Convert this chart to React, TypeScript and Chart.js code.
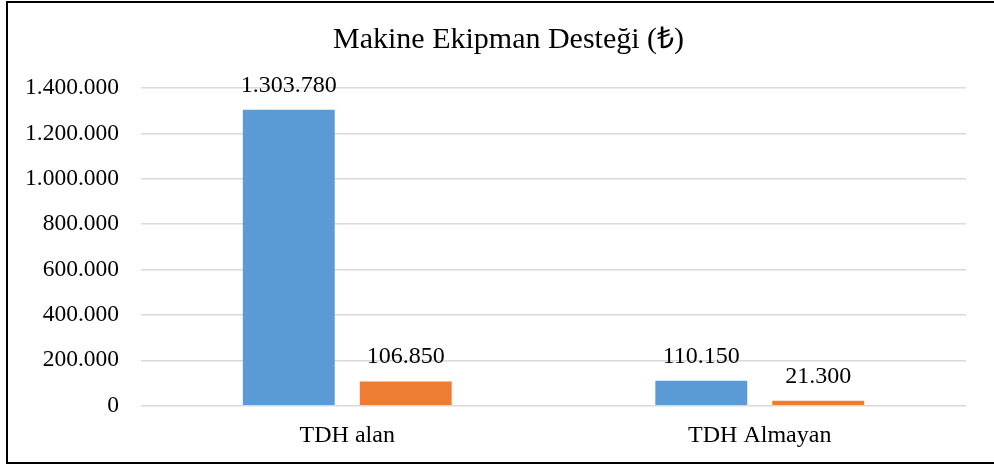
import React, { useEffect, useRef } from "react";
import { Chart, registerables } from "chart.js";

Chart.register(...registerables);

const categories = ["TDH alan", "TDH Almayan"];
const seriesA = [1303780, 110150];
const seriesB = [106850, 21300];
const seriesNames = ["Seri 1", "Seri 2"];
const titleText = "Makine Ekipman Desteği (₺)";
const yMax = 1400000;
const yStep = 200000;

const fmt = (v: number) => String(Math.round(v)).replace(/\B(?=(\d{3})+(?!\d))/g, ".");

const FONT = "'Liberation Serif', 'Times New Roman', serif";

const valueLabels = {
  id: "valueLabels",
  afterDatasetsDraw(chart: any) {
    const ctx = chart.ctx;
    ctx.save();
    ctx.font = `24px ${FONT}`;
    ctx.fillStyle = "#000";
    ctx.textAlign = "center";
    ctx.textBaseline = "middle";
    chart.data.datasets.forEach((ds: any, di: number) => {
      const meta = chart.getDatasetMeta(di);
      meta.data.forEach((bar: any, i: number) => {
        ctx.fillText(fmt(ds.data[i]), bar.x, bar.y - 24.5);
      });
    });
    ctx.restore();
  },
};

const chartTitle = {
  id: "chartTitle",
  afterDraw(chart: any) {
    const ctx = chart.ctx;
    ctx.save();
    ctx.font = `30px ${FONT}`;
    ctx.fillStyle = "#000";
    ctx.textAlign = "left";
    ctx.textBaseline = "alphabetic";
    ctx.fillText(titleText, 325, 44.5);
    ctx.restore();
  },
};

export default function App() {
  const ref = useRef<HTMLCanvasElement>(null);
  useEffect(() => {
    if (!ref.current) return;
    const chart = new Chart(ref.current, {
      type: "bar",
      data: {
        labels: categories,
        datasets: [
          { label: seriesNames[0], data: seriesA, backgroundColor: "#5B9BD5", categoryPercentage: 0.567, barPercentage: 0.786 },
          { label: seriesNames[1], data: seriesB, backgroundColor: "#ED7D31", categoryPercentage: 0.567, barPercentage: 0.786 },
        ],
      },
      options: {
        animation: false,
        responsive: true,
        maintainAspectRatio: false,
        layout: { padding: { left: 0, right: 38, top: 85, bottom: 0 } },
        plugins: {
          legend: { display: false },
          tooltip: { enabled: false },
          title: { display: false },
        },
        scales: {
          x: {
            grid: { display: false, drawTicks: false },
            border: { display: false },
            ticks: { color: "#000", font: { family: FONT, size: 24 }, padding: 15.5 },
            afterFit: (s: any) => { s.height = 56.3; },
          },
          y: {
            min: 0,
            max: yMax,
            ticks: { stepSize: yStep, color: "#000", font: { family: FONT, size: 23.5 }, padding: 22, callback: (v: any) => fmt(Number(v)) },
            grid: { color: "#d9d9d9", lineWidth: 1.5, drawTicks: false },
            border: { display: false },
            afterFit: (s: any) => { s.width = 133; },
          },
        },
      },
      plugins: [valueLabels, chartTitle],
    });
    return () => chart.destroy();
  }, []);
  return (
    <div
      style={{
        position: "absolute",
        left: 6,
        top: 1,
        width: 1000,
        height: 463,
        border: "2px solid #000",
        boxSizing: "border-box",
        background: "#fff",
      }}
    >
      <div style={{ position: "relative", width: 996, height: 459 }}>
        <canvas ref={ref} />
      </div>
    </div>
  );
}
